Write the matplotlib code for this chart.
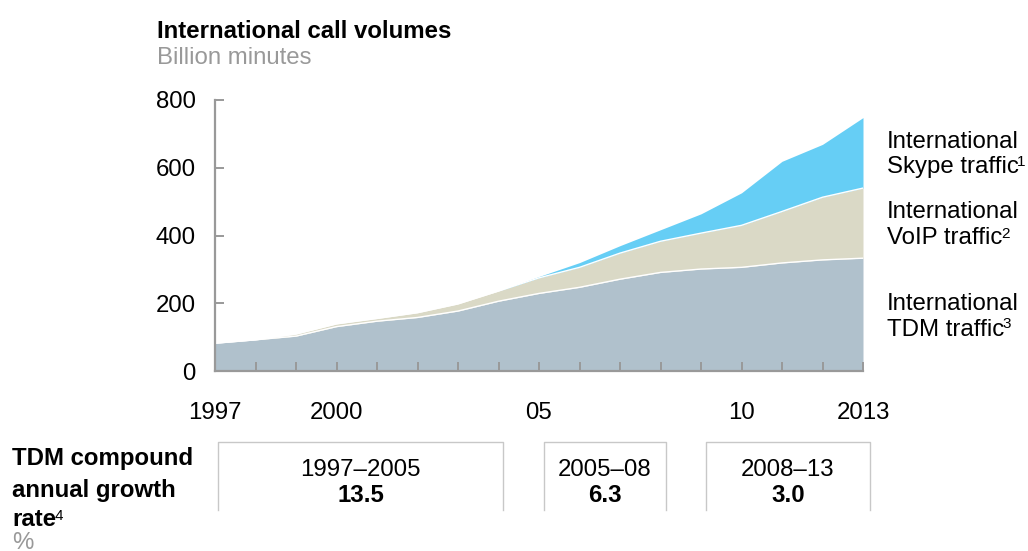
import matplotlib
matplotlib.use("Agg")
import matplotlib.pyplot as plt
import numpy as np
from matplotlib.transforms import Affine2D
from matplotlib.lines import Line2D

plt.rcParams['font.family'] = ['Liberation Sans', 'DejaVu Sans']

# ---- data ----
years = list(range(1997, 2014))
tdm = [82, 92, 103, 131, 147, 158, 177, 206, 229, 247, 271, 291, 301, 306, 319, 328, 333]
voip = [0, 0, 6, 8, 8, 14, 21, 30, 46, 59, 77, 92, 106, 124, 152, 185, 207]
skype = [0, 0, 0, 0, 0, 0, 0, 0, 4, 14, 22, 34, 57, 96, 148, 156, 208]
series_labels = [("International", "Skype traffic", "1"),
                 ("International", "VoIP traffic", "2"),
                 ("International", "TDM traffic", "3")]
major_ticks = [1997, 2000, 2005, 2010, 2013]
major_labels = ["1997", "2000", "05", "10", "2013"]
y_ticks = [0, 200, 400, 600, 800]
periods = ["1997–2005", "2005–08", "2008–13"]
cagr = ["13.5", "6.3", "3.0"]

c_tdm = "#B0C1CC"
c_voip = "#DAD9C6"
c_skype = "#66CEF5"
grey = "#999999"
FS = 17.3
SUP = 11

W, H = 1028, 551
fig = plt.figure(figsize=(W / 100, H / 100), dpi=100)
px = Affine2D().scale(1 / W, -1 / H).translate(0, 1) + fig.transFigure

ax_l, ax_r, ax_b, ax_t = 215, 863, 371, 100
ax = fig.add_axes([ax_l / W, 1 - ax_b / H, (ax_r - ax_l) / W, (ax_b - ax_t) / H])

x = np.array(years)
t = np.array(tdm, float)
v = t + np.array(voip, float)
s = v + np.array(skype, float)
ax.fill_between(x, 0, t, color=c_tdm, lw=0, zorder=1)
ax.fill_between(x, t, v, color=c_voip, lw=0, zorder=1)
ax.fill_between(x, v, s, color=c_skype, lw=0, zorder=1)
ax.plot(x, t, color="white", lw=1.0, zorder=1.5)
ax.plot(x, v, color="white", lw=1.0, zorder=1.5)

ax.set_xlim(1997, 2013)
ax.set_ylim(0, 800)
ax.set_yticks(y_ticks)
ax.set_yticklabels([str(k) for k in y_ticks])
ax.set_xticks(major_ticks)
ax.set_xticklabels(major_labels)
ax.set_xticks(years, minor=True)
ax.set_axisbelow(False)
for sp in ["top", "right"]:
    ax.spines[sp].set_visible(False)
for sp in ["left", "bottom"]:
    ax.spines[sp].set_color(grey)
    ax.spines[sp].set_linewidth(1.6)
    ax.spines[sp].set_zorder(3)
ax.tick_params(axis="both", which="both", direction="in", length=6.5, width=1.4,
               color=grey, labelsize=FS, labelcolor="black")
ax.tick_params(axis="y", pad=14)
ax.tick_params(axis="x", pad=22)
ax.patch.set_alpha(0)

# ---- texts ----
def txt(xp, yp, s, size=FS, **kw):
    return fig.text(xp, yp, s, transform=px, fontsize=size, va="baseline", **kw)

renderer = fig.canvas.get_renderer()

def txt_sup(xp, yp, s, sup, **kw):
    tt = txt(xp, yp, s, **kw)
    bb = tt.get_window_extent(renderer=renderer)
    x_end = bb.x1 * W / fig.bbox.width
    txt(x_end - 1.5, yp - 7, sup, size=SUP, color=kw.get("color", "black"))

half_cap = 8.5
txt(157, 30 + half_cap, "International call volumes", fontweight="bold", color="black")
txt(157, 55 + half_cap, "Billion minutes", color="#999999")

label_y = [(140, 165), (210, 236), (302, 327)]
for (l1, l2, sup), (y1, y2) in zip(series_labels, label_y):
    txt(887, y1 + half_cap, l1, color="black")
    txt_sup(887, y2 + half_cap, l2, sup, color="black")

txt(12, 457 + half_cap, "TDM compound", fontweight="bold")
txt(12, 488 + half_cap, "annual growth", fontweight="bold")
txt_sup(12, 518 + half_cap, "rate", "4", fontweight="bold")
txt(12, 549, "%", color="#999999")

boxes = [(218, 503), (544, 666), (706, 870)]
for (bl, br), per, val in zip(boxes, periods, cagr):
    fig.add_artist(Line2D([bl, bl, br, br], [510, 442, 442, 510], transform=px,
                          color="#C8C8C8", lw=1.0))
    cx = (bl + br) / 2
    txt(cx, 467 + half_cap, per, ha="center")
    txt(cx, 493 + half_cap, val, ha="center", fontweight="bold")

fig.savefig("out.png", dpi=100)
